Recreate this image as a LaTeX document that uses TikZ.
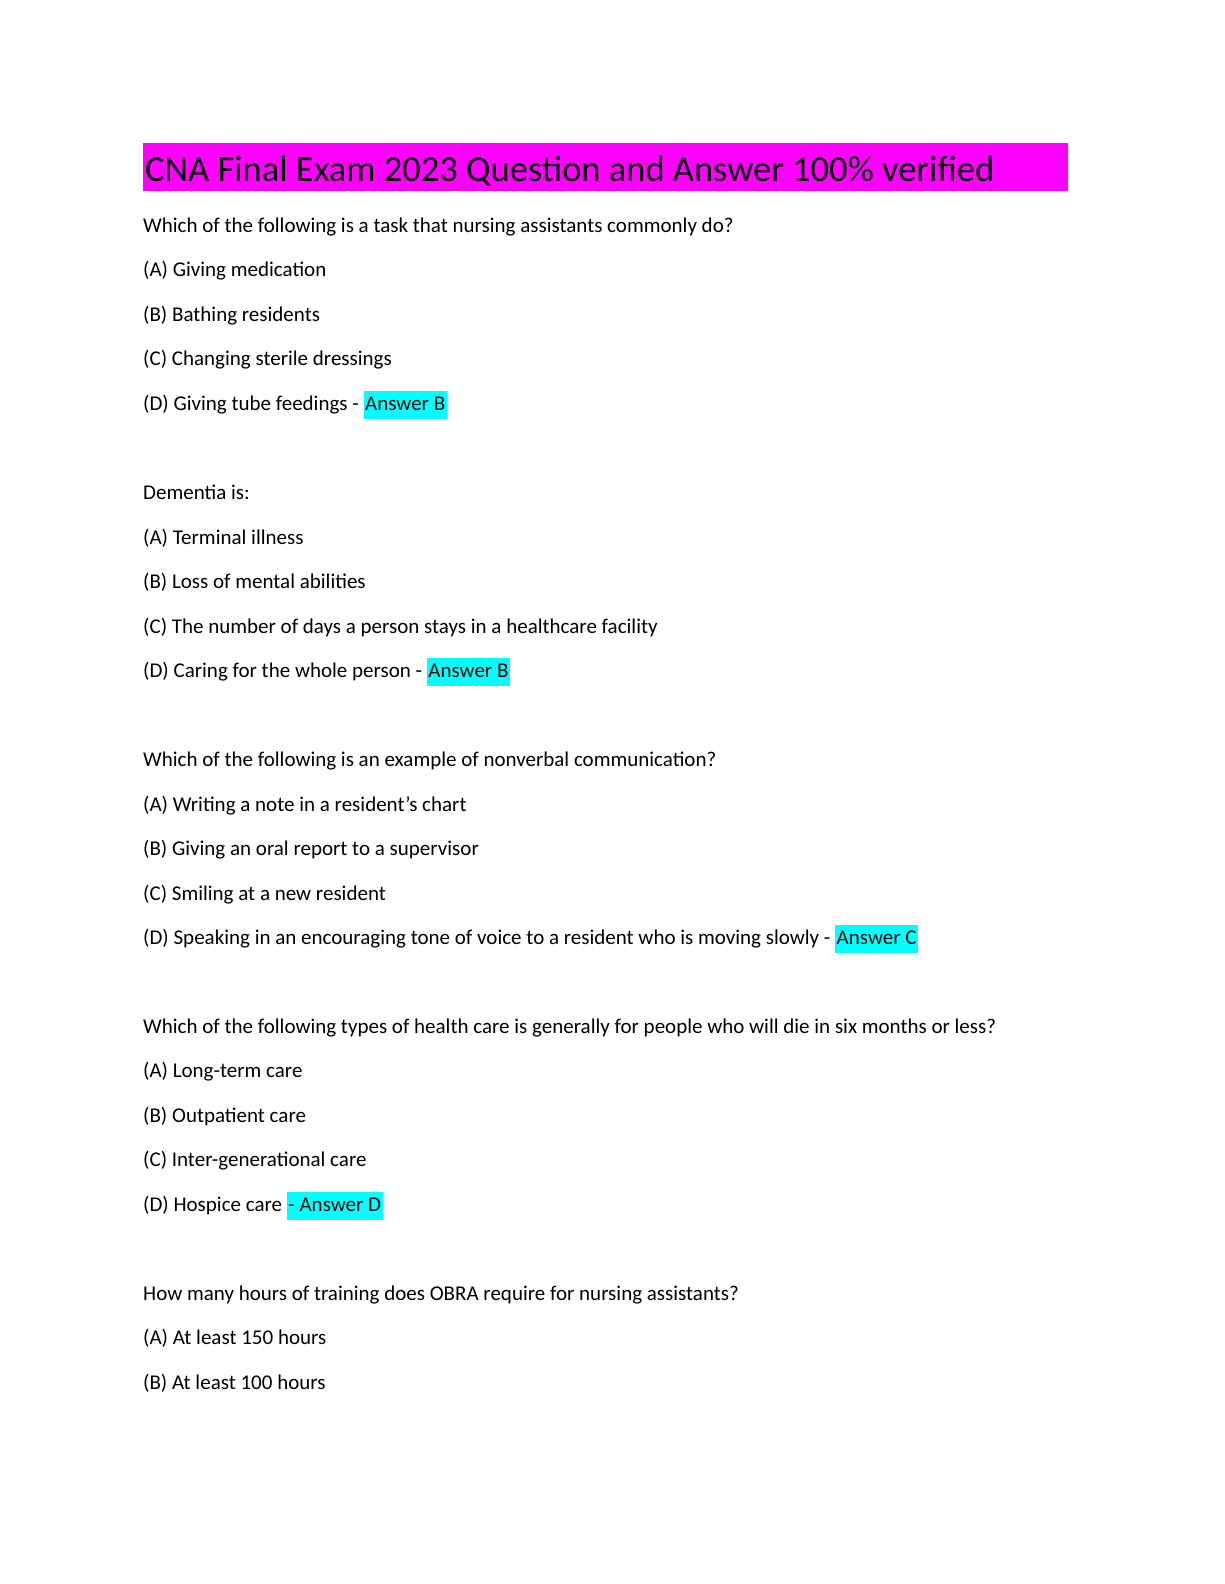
\documentclass[tikz,border=0pt]{standalone}
\usepackage{fontspec}
\setmainfont{Carlito}
\definecolor{ans}{RGB}{0,255,255}
\definecolor{ttl}{RGB}{255,0,255}
\newcommand{\hlans}[1]{{\setlength{\fboxsep}{1.5pt}\colorbox{ans}{\strut #1}}}
\begin{document}
\begin{tikzpicture}[x=1pt,y=-1pt,
  line/.style={anchor=base west,inner sep=0pt,font=\fontsize{21}{25}\selectfont}]
\useasboundingbox (0,0) rectangle (1224,1584);
\fill[ttl] (143,143) rectangle (1068,191);
\node[anchor=base west,inner sep=0pt,font=\fontsize{36.5}{40}\selectfont] (title) at (145,181) {CNA Final Exam 2023 Question and Answer 100\% verified};
\node[line] (l1) at (143,232) {Which of the following is a task that nursing assistants commonly do?};
\node[line] (l2) at (143,276) {(A) Giving medication};
\node[line] (l3) at (143,321) {(B) Bathing residents};
\node[line] (l4) at (143,365) {(C) Changing sterile dressings};
\node[line] (l5) at (143,410) {(D) Giving tube feedings - \hlans{Answer B}};
\node[line] (l6) at (143,499) {Dementia is:};
\node[line] (l7) at (143,544) {(A) Terminal illness};
\node[line] (l8) at (143,588) {(B) Loss of mental abilities};
\node[line] (l9) at (143,633) {(C) The number of days a person stays in a healthcare facility};
\node[line] (l10) at (143,677) {(D) Caring for the whole person - \hlans{Answer B}};
\node[line] (l11) at (143,766) {Which of the following is an example of nonverbal communication?};
\node[line] (l12) at (143,811) {(A) Writing a note in a resident's chart};
\node[line] (l13) at (143,855) {(B) Giving an oral report to a supervisor};
\node[line] (l14) at (143,900) {(C) Smiling at a new resident};
\node[line] (l15) at (143,944) {(D) Speaking in an encouraging tone of voice to a resident who is moving slowly - \hlans{Answer C}};
\node[line] (l16) at (143,1033) {Which of the following types of health care is generally for people who will die in six months or less?};
\node[line] (l17) at (143,1077) {(A) Long-term care};
\node[line] (l18) at (143,1122) {(B) Outpatient care};
\node[line] (l19) at (143,1166) {(C) Inter-generational care};
\node[line] (l20) at (143,1211) {(D) Hospice care \hlans{- Answer D}};
\node[line] (l21) at (143,1300) {How many hours of training does OBRA require for nursing assistants?};
\node[line] (l22) at (143,1344) {(A) At least 150 hours};
\node[line] (l23) at (143,1389) {(B) At least 100 hours};
\end{tikzpicture}
\end{document}
